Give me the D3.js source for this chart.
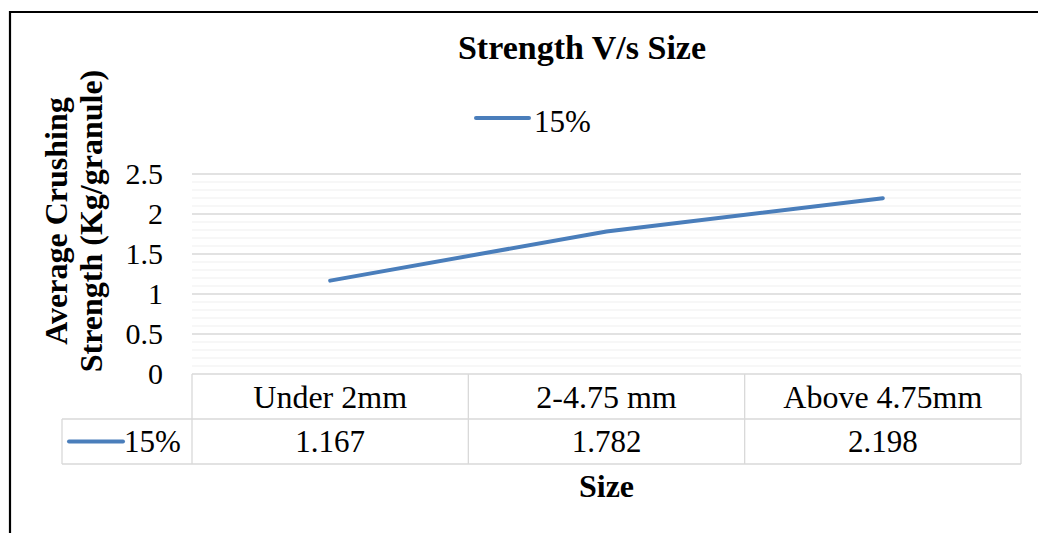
<!DOCTYPE html>
<html><head><meta charset="utf-8">
<script src="https://cdn.jsdelivr.net/npm/d3@7/dist/d3.min.js"></script>
<style>body{margin:0;background:#fff;} svg{display:block;}</style>
</head><body>
<svg id="c" width="1038" height="533"></svg>
<script>
const categories = ["Under 2mm", "2-4.75 mm", "Above 4.75mm"];
const seriesName = "15%";
const values = [1.167, 1.782, 2.198];
const valueLabels = ["1.167", "1.782", "2.198"];
const yTicks = [0, 0.5, 1, 1.5, 2, 2.5];
const minorTicks = d3.range(0, 2.51, 0.1).map(v => +v.toFixed(1));

const svg = d3.select("#c");
const font = "'Liberation Serif','Times New Roman',serif";
const color = "#4a7ebb";
const L = 192, R = 1021, T = 174, B = 374;
const rowH = 45;

// outer border (top and left visible)
svg.append("path").attr("d", `M10,${1040} L10,12 L1040,12`).attr("fill","none").attr("stroke","#000").attr("stroke-width",2.2);

const x = d3.scaleBand().domain(categories).range([L, R]);
const y = d3.scaleLinear().domain([0, 2.5]).range([B, T]);

// minor gridlines
svg.append("g").selectAll("line").data(minorTicks.filter(v => !yTicks.some(t => Math.abs(t - v) < 1e-9)))
  .join("line").attr("x1", L).attr("x2", R).attr("y1", d => y(d)).attr("y2", d => y(d))
  .attr("stroke", "#efefef").attr("stroke-width", 1.2);
// major gridlines
svg.append("g").selectAll("line").data(yTicks.filter(v => v > 0))
  .join("line").attr("x1", L).attr("x2", R).attr("y1", d => y(d)).attr("y2", d => y(d))
  .attr("stroke", "#d9d9d9").attr("stroke-width", 1.3);

// y ticks
const yAxis = d3.axisLeft(y).tickValues(yTicks).tickSize(0).tickPadding(0).tickFormat(d3.format(""));
const ga = svg.append("g").attr("transform", `translate(${L - 29},0)`).call(yAxis);
ga.select(".domain").remove();
ga.selectAll("text").attr("font-family", font).attr("font-size", 30).attr("fill", "#000").attr("dy", "0.33em");

// data table
const tbl = svg.append("g").attr("stroke", "#d9d9d9").attr("stroke-width", 1.3).attr("fill", "none");
tbl.append("line").attr("x1", L).attr("x2", R).attr("y1", B).attr("y2", B);
tbl.append("line").attr("x1", 62).attr("x2", R).attr("y1", B + rowH).attr("y2", B + rowH);
tbl.append("line").attr("x1", 62).attr("x2", R).attr("y1", B + 2 * rowH).attr("y2", B + 2 * rowH);
tbl.append("line").attr("x1", 62).attr("x2", 62).attr("y1", B + rowH).attr("y2", B + 2 * rowH);
tbl.selectAll(".v").data([L, ...categories.map(c => x(c) + x.bandwidth())]).join("line")
  .attr("x1", d => d).attr("x2", d => d).attr("y1", B).attr("y2", B + 2 * rowH);

svg.append("g").selectAll("text").data(categories).join("text")
  .attr("x", d => x(d) + x.bandwidth() / 2).attr("y", B + rowH / 2).attr("dy", "0.35em")
  .attr("text-anchor", "middle").attr("font-family", font).attr("font-size", 32).text(d => d);
svg.append("g").selectAll("text").data(valueLabels).join("text")
  .attr("x", (d, i) => x(categories[i]) + x.bandwidth() / 2).attr("y", B + rowH * 1.5).attr("dy", "0.35em")
  .attr("text-anchor", "middle").attr("font-family", font).attr("font-size", 31).text(d => d);
svg.append("line").attr("x1", 69).attr("x2", 123).attr("y1", B + rowH * 1.5).attr("y2", B + rowH * 1.5)
  .attr("stroke", color).attr("stroke-width", 4).attr("stroke-linecap", "round");
svg.append("text").attr("x", 124).attr("y", B + rowH * 1.5).attr("dy", "0.35em")
  .attr("font-family", font).attr("font-size", 31).text(seriesName);

// line
const line = d3.line().x((d, i) => x(categories[i]) + x.bandwidth() / 2).y(d => y(d));
svg.append("path").datum(values).attr("d", line).attr("fill", "none")
  .attr("stroke", color).attr("stroke-width", 4).attr("stroke-linecap", "round");

// title
svg.append("text").attr("x", 582).attr("y", 59).attr("text-anchor", "middle")
  .attr("font-family", font).attr("font-weight", "bold").attr("font-size", 34).text("Strength V/s Size");
// legend
svg.append("line").attr("x1", 476).attr("x2", 529).attr("y1", 118).attr("y2", 118)
  .attr("stroke", color).attr("stroke-width", 4).attr("stroke-linecap", "round");
svg.append("text").attr("x", 534).attr("y", 132)
  .attr("font-family", font).attr("font-size", 31).text(seriesName);

// x title
svg.append("text").attr("x", (L + R) / 2).attr("y", 497).attr("text-anchor", "middle")
  .attr("font-family", font).attr("font-weight", "bold").attr("font-size", 32).text("Size");

// y title
const yt = svg.append("text").attr("transform", "translate(0,221) rotate(-90)")
  .attr("text-anchor", "middle").attr("font-family", font).attr("font-weight", "bold").attr("font-size", 32);
yt.append("tspan").attr("x", 0).attr("y", 67).text("Average Crushing");
yt.append("tspan").attr("x", 0).attr("y", 102).text("Strength (Kg/granule)");
</script>
</body></html>
